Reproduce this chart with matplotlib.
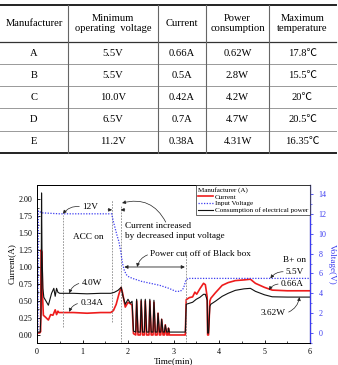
import matplotlib
matplotlib.use('Agg')
import matplotlib.pyplot as plt

plt.rcParams['font.family'] = ['Liberation Serif', 'Noto Sans CJK JP', 'DejaVu Serif']

# ---- table data ----
col_labels = ['Manufacturer', 'Minimum\noperating  voltage', 'Current',
              'Power\nconsumption', 'Maximum\ntemperature']
makers = ['A', 'B', 'C', 'D', 'E']
min_volt = ['5.5V', '5.5V', '10.0V', '6.5V', '11.2V']
currents = ['0.66A', '0.5A', '0.42A', '0.7A', '0.38A']
powers = ['0.62W', '2.8W', '4.2W', '4.7W', '4.31W']
max_temp = ['17.8℃', '15.5℃', '20℃', '20.5℃', '16.35℃']

# ---- chart data (time in min) ----
cur_t = [0.00, 0.06, 0.08, 0.09, 0.11, 0.12, 0.14, 0.19, 0.25, 0.30,
         0.35, 0.40, 0.43, 0.46, 0.48, 0.55, 0.80, 1.10, 1.40, 1.62,
         1.68, 1.74, 1.80, 1.85, 1.88, 1.94, 2.00, 2.05, 2.09, 2.12,
         2.17, 2.19, 2.22, 2.27, 2.29, 2.32, 2.36, 2.38, 2.41, 2.46,
         2.48, 2.51, 2.55, 2.57, 2.60, 2.64, 2.66, 2.69, 2.72, 2.74,
         2.77, 2.80, 2.82, 2.85, 2.88, 2.89, 2.91, 3.26, 3.28, 3.35,
         3.42, 3.47, 3.51, 3.58, 3.66, 3.70, 3.74, 3.75, 3.77, 3.80,
         3.82, 3.92, 4.07, 4.20, 4.36, 4.55, 4.69, 4.80, 5.00, 5.17,
         5.50, 6.00]
cur_a = [0.03, 0.03, 0.05, 1.25, 1.22, 0.60, 0.29, 0.26, 0.22, 0.30,
         0.29, 0.37, 0.30, 0.35, 0.33, 0.33, 0.33, 0.32, 0.33, 0.33,
         0.36, 0.45, 0.60, 0.70, 0.62, 0.41, 0.48, 0.46, 0.44, 0.02,
         0.00, 0.50, 0.00, 0.00, 0.50, 0.00, 0.00, 0.50, 0.00, 0.00,
         0.50, 0.00, 0.00, 0.48, 0.00, 0.00, 0.32, 0.00, 0.00, 0.23,
         0.00, 0.00, 0.15, 0.00, 0.00, 0.10, 0.00, 0.00, 0.52, 0.55,
         0.56, 0.63, 0.60, 0.68, 0.76, 0.74, 0.56, 0.00, 0.00, 0.50,
         0.54, 0.62, 0.73, 0.77, 0.80, 0.81, 0.82, 0.76, 0.70, 0.66,
         0.65, 0.65]

volt_t = [0.00, 0.02, 0.03, 0.10, 0.50, 1.00, 1.64, 1.68, 1.72, 1.76,
          1.80, 1.84, 1.88, 1.92, 1.96, 2.00, 2.10, 2.30, 2.50, 2.70,
          2.90, 3.05, 3.15, 3.22, 3.27, 3.32, 4.00, 5.00, 6.00]
volt_v = [0.1, 0.1, 12.3, 12.1, 12.0, 12.0, 12.0, 11.2, 10.5, 9.8,
          9.2, 8.2, 7.0, 6.3, 5.9, 5.7, 5.5, 5.2, 5.0, 4.8,
          4.5, 4.2, 4.2, 4.5, 5.3, 5.5, 5.5, 5.5, 5.5]

pow_t = [0.00, 0.07, 0.09, 0.10, 0.11, 0.13, 0.15, 0.20, 0.25, 0.32,
         0.37, 0.40, 0.43, 0.46, 0.50, 0.80, 1.10, 1.40, 1.62, 1.70,
         1.78, 1.85, 1.89, 1.94, 2.00, 2.05, 2.09, 2.12, 2.17, 2.19,
         2.22, 2.27, 2.29, 2.32, 2.36, 2.38, 2.41, 2.46, 2.48, 2.51,
         2.55, 2.57, 2.60, 2.64, 2.66, 2.69, 2.72, 2.74, 2.77, 2.80,
         2.82, 2.85, 2.88, 2.89, 2.91, 3.26, 3.28, 3.35, 3.42, 3.50,
         3.58, 3.66, 3.70, 3.74, 3.75, 3.77, 3.80, 3.82, 3.92, 4.07,
         4.20, 4.36, 4.55, 4.69, 4.80, 5.00, 5.17, 5.50, 6.00]
pow_w = [0.1, 0.1, 2.0, 14.1, 8.0, 4.5, 3.6, 3.2, 2.8, 4.0,
         4.5, 3.7, 4.5, 4.1, 4.0, 4.0, 3.95, 4.0, 4.0, 4.1,
         4.3, 4.6, 3.7, 2.9, 3.4, 3.0, 3.2, 0.2, 0.1, 3.4,
         0.1, 0.1, 3.4, 0.1, 0.1, 3.4, 0.1, 0.1, 3.4, 0.1,
         0.1, 3.3, 0.1, 0.1, 2.0, 0.1, 0.1, 1.4, 0.1, 0.1,
         0.8, 0.1, 0.1, 0.5, 0.1, 0.1, 2.9, 3.0, 3.1, 3.4,
         3.6, 3.9, 3.9, 3.3, 0.0, 0.0, 2.7, 2.9, 3.2, 3.7,
         4.0, 4.3, 4.45, 4.5, 4.2, 3.85, 3.65, 3.62, 3.62]

blue = '#3c3cf0'

fig = plt.figure(figsize=(3.38, 3.65), dpi=100)

# ---------------- table (pixel coords) ----------------
tab = fig.add_axes([0, 1 - 160 / 365, 1, 160 / 365])
tab.set_xlim(0, 338)
tab.set_ylim(160, 0)
tab.axis('off')

col_x = [0, 68, 158, 206, 269, 336]
row_y = [5, 42, 64, 86, 108, 131, 153]
centers = [(col_x[i] + col_x[i + 1]) / 2 for i in range(5)]

tab.plot([0, 336], [row_y[0]] * 2, color='#222', lw=1.4)
tab.plot([0, 336], [row_y[1]] * 2, color='#333', lw=0.9)
for yy in row_y[2:-1]:
    tab.plot([0, 336], [yy] * 2, color='#999', lw=0.7)
tab.plot([0, 336], [row_y[-1]] * 2, color='#222', lw=1.4)
for xx in col_x[1:-1]:
    tab.plot([xx, xx], [row_y[0], row_y[-1]], color='#666', lw=0.8)

for cx, lab in zip(centers, col_labels):
    tab.text(cx, 23.5, lab, ha='center', va='center', fontsize=7.6,
             linespacing=1.25)
rows = list(zip(makers, min_volt, currents, powers, max_temp))
for r, row in enumerate(rows):
    yc = (row_y[r + 1] + row_y[r + 2]) / 2
    for cx, val in zip(centers, row):
        tab.text(cx, yc, val, ha='center', va='center', fontsize=7.6)

# ---------------- chart ----------------
ax = fig.add_axes([37 / 338, 22 / 365, 273 / 338, 158 / 365])
ax2 = ax.twinx()

l1, = ax.plot(cur_t, cur_a, color='#ee1c1c', lw=1.2, label='Current')
l2, = ax2.plot(volt_t, volt_v, color=blue, lw=0.9, ls=(0, (1, 1.2)),
               label='Input Voltage')
l3, = ax2.plot(pow_t, pow_w, color='#111', lw=0.8,
               label='Consumption of electrical power')

ax.set_xlim(0, 6)
ax.set_ylim(-0.118, 2.206)
ax2.set_ylim(-1.0, 14.9)

ax.set_xticks(range(7))
ax.set_xticks([0.5, 1.5, 2.5, 3.5, 4.5, 5.5], minor=True)
ax.set_yticks([0, 0.25, 0.5, 0.75, 1.0, 1.25, 1.5, 1.75, 2.0])
ax.set_yticks([i * 0.125 for i in range(1, 17, 2)], minor=True)
ax.set_yticklabels(['%.2f' % v for v in ax.get_yticks()])
ax.tick_params(axis='both', which='major', direction='in', labelsize=5.8,
               length=2.5, width=0.6)
ax.tick_params(axis='both', which='minor', direction='in', length=1.5,
               width=0.5)

ax2.set_yticks(range(0, 15, 2))
ax2.set_yticks(range(-1, 15, 2), minor=True)
ax2.tick_params(axis='y', which='major', direction='out', labelsize=5.8,
                length=2.5, width=0.6, colors=blue)
ax2.tick_params(axis='y', which='minor', direction='out', length=1.5,
                width=0.5, colors=blue)
ax2.spines['right'].set_color(blue)
for a in (ax, ax2):
    for s in ['left', 'top', 'bottom']:
        a.spines[s].set_linewidth(0.7)
ax2.spines['right'].set_linewidth(0.9)

ax.set_xlabel('Time(min)', fontsize=6.6, labelpad=1)
ax.set_ylabel('Current(A)', fontsize=6.6, labelpad=2)
ax2.set_ylabel('Voltage(V)', fontsize=6.6, color=blue, rotation=270,
               labelpad=7)

# guide lines
guide = dict(color='#888', lw=0.6, ls=(0, (2, 1.5)))
ax.plot([0.57, 0.57], [0.12, 1.76], **guide)
ax.plot([1.65, 1.65], [0.19, 1.99], **guide)
ax.plot([1.84, 1.84], [-0.11, 1.90], **guide)
ax.plot([3.27, 3.27], [-0.11, 1.21], **guide)

arr = dict(arrowstyle='-|>', color='#222', lw=0.5, mutation_scale=5,
           shrinkA=0, shrinkB=0)
fs = 6.7


def lead(axis, txt, xy, xytext, rad, ha='left', rel=(0, 0.5)):
    props = dict(arr, connectionstyle='arc3,rad=%s' % rad, relpos=rel)
    axis.annotate(txt, xy=xy, xytext=xytext, ha=ha, va='center',
                  fontsize=fs, arrowprops=props)


lead(ax2, '12V', (0.57, 12.0), (0.99, 12.7), 0.3)
lead(ax2, '4.0W', (0.71, 4.0), (0.98, 5.05), 0.3)
lead(ax, '0.34A', (0.71, 0.34), (0.95, 0.47), 0.3)
lead(ax2, '5.5V', (5.13, 5.5), (5.47, 6.15), 0.3)
lead(ax, '0.66A', (5.10, 0.66), (5.36, 0.75), 0.3)
lead(ax2, '3.62W', (5.77, 3.62), (5.47, 2.0), 0.3, ha='right', rel=(1, 0.5))
lead(ax, 'Power cut off of Black box', (2.2, 1.0), (2.49, 1.19), 0.3)

ax.text(1.13, 1.44, 'ACC on', ha='center', va='center', fontsize=fs)
ax.text(5.65, 1.10, 'B+ on', ha='center', va='center', fontsize=fs)
ax.text(1.94, 1.53, 'Current increased\nby decreased input voltage',
        ha='left', va='center', fontsize=fs, linespacing=1.2)
ax.annotate('', xy=(1.87, 1.94), xytext=(2.83, 1.66),
            arrowprops=dict(arr, connectionstyle='arc3,rad=0.4'))
ax2.annotate('', xy=(1.65, 12.4), xytext=(1.56, 12.4), arrowprops=arr)
ax2.annotate('', xy=(1.84, 12.4), xytext=(1.93, 12.4), arrowprops=arr)
ax.annotate('', xy=(1.92, 1.0), xytext=(3.25, 1.0),
            arrowprops=dict(arrowstyle='<|-|>', color='#222', lw=0.6,
                            mutation_scale=5, shrinkA=0, shrinkB=0))

leg = ax2.legend(handles=[l1, l2, l3], title='Manufacturer (A)',
                 loc='upper right', bbox_to_anchor=(1, 1),
                 borderaxespad=0, fontsize=5.1, title_fontsize=5.1,
                 alignment='left', fancybox=False, frameon=True,
                 handlelength=2.1, handletextpad=0.2, labelspacing=0.1,
                 borderpad=0.3)
leg.get_frame().set_edgecolor('#222')
leg.get_frame().set_linewidth(0.6)

fig.savefig('out.png', dpi=100)
